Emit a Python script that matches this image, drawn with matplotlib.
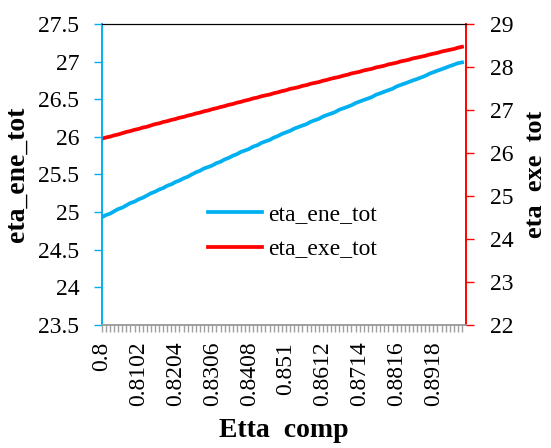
import matplotlib
matplotlib.use("Agg")
import matplotlib.pyplot as plt
from matplotlib.ticker import FormatStrFormatter

plt.rcParams['font.family'] = ['Liberation Serif', 'DejaVu Serif']

# Etta_comp values (category axis)
etta_comp = [0.8, 0.8011, 0.8023, 0.8034, 0.8045, 0.8057, 0.8068, 0.8079, 0.8091,
             0.8102, 0.8113, 0.8125, 0.8136, 0.8147, 0.8159, 0.8170, 0.8181, 0.8193,
             0.8204, 0.8215, 0.8227, 0.8238, 0.8249, 0.8261, 0.8272, 0.8283, 0.8295,
             0.8306, 0.8317, 0.8329, 0.834, 0.8351, 0.8363, 0.8374, 0.8385, 0.8397,
             0.8408, 0.8419, 0.8431, 0.8442, 0.8453, 0.8465, 0.8476, 0.8487, 0.8499,
             0.851, 0.8521, 0.8533, 0.8544, 0.8555, 0.8567, 0.8578, 0.8589, 0.8601,
             0.8612, 0.8623, 0.8635, 0.8646, 0.8657, 0.8669, 0.868, 0.8691, 0.8703,
             0.8714, 0.8725, 0.8737, 0.8748, 0.8759, 0.8771, 0.8782, 0.8793, 0.8805,
             0.8816, 0.8827, 0.8839, 0.885, 0.8861, 0.8873, 0.8884, 0.8895, 0.8907,
             0.8918, 0.8929, 0.8941, 0.8952, 0.8963, 0.8975, 0.8986, 0.8997]

eta_ene_tot = [24.93, 24.96, 24.98, 25.01, 25.04, 25.06, 25.09, 25.12, 25.14,
               25.17, 25.19, 25.22, 25.25, 25.27, 25.30, 25.32, 25.35, 25.37,
               25.40, 25.42, 25.45, 25.47, 25.50, 25.53, 25.55, 25.58, 25.60,
               25.62, 25.65, 25.67, 25.70, 25.72, 25.75, 25.77, 25.80, 25.82,
               25.84, 25.87, 25.89, 25.92, 25.94, 25.96, 25.99, 26.01, 26.04,
               26.06, 26.08, 26.11, 26.13, 26.15, 26.17, 26.20, 26.22, 26.24,
               26.27, 26.29, 26.31, 26.33, 26.36, 26.38, 26.40, 26.42, 26.45,
               26.47, 26.49, 26.51, 26.53, 26.56, 26.58, 26.60, 26.62, 26.64,
               26.67, 26.69, 26.71, 26.73, 26.75, 26.77, 26.79, 26.81, 26.84,
               26.86, 26.88, 26.90, 26.92, 26.94, 26.96, 26.98, 26.99]

eta_exe_tot = [26.33, 26.36, 26.38, 26.41, 26.43, 26.46, 26.49, 26.51, 26.54,
               26.56, 26.59, 26.61, 26.64, 26.67, 26.69, 26.72, 26.74, 26.77,
               26.79, 26.82, 26.84, 26.87, 26.89, 26.92, 26.94, 26.97, 26.99,
               27.02, 27.04, 27.07, 27.09, 27.12, 27.14, 27.17, 27.19, 27.22,
               27.24, 27.27, 27.29, 27.32, 27.34, 27.36, 27.39, 27.41, 27.44,
               27.46, 27.49, 27.51, 27.53, 27.56, 27.58, 27.61, 27.63, 27.65,
               27.68, 27.70, 27.73, 27.75, 27.77, 27.80, 27.82, 27.85, 27.87,
               27.89, 27.92, 27.94, 27.96, 27.99, 28.01, 28.03, 28.06, 28.08,
               28.10, 28.13, 28.15, 28.17, 28.20, 28.22, 28.24, 28.26, 28.29,
               28.31, 28.33, 28.36, 28.38, 28.40, 28.42, 28.45, 28.47]

label_every = 9
blue = '#00B0F0'
red = '#FF0000'
fs = 17

fig = plt.figure(figsize=(5.51, 4.48), dpi=100)
ax = fig.add_axes([0.1846, 0.2746, 0.8457 - 0.1846, 0.9464 - 0.2746])
ax2 = ax.twinx()

l1, = ax.plot(etta_comp, eta_ene_tot, color=blue, lw=2.7, label='eta_ene_tot')
l2, = ax2.plot(etta_comp, eta_exe_tot, color=red, lw=2.7, label='eta_exe_tot')

ax.set_xlim(etta_comp[0], etta_comp[-1] + 0.0011)
ax.set_ylim(23.5, 27.5)
ax2.set_ylim(22, 29)
ax.set_yticks([23.5 + 0.5 * i for i in range(9)])
ax2.set_yticks(list(range(22, 30)))
ax.yaxis.set_major_formatter(FormatStrFormatter('%g'))

ax.set_xticks(etta_comp)
ax.set_xticklabels([f'{v:g}' if i % label_every == 0 else '' for i, v in enumerate(etta_comp)],
                   rotation=90, fontsize=fs)
ax.tick_params(axis='x', direction='out', length=5, width=1, color='#A0A0A0', pad=7)
ax.tick_params(axis='y', direction='out', length=6, width=1, color=blue, labelsize=fs, pad=10)
ax2.tick_params(axis='y', direction='out', length=6, width=1, color=red, labelsize=fs, pad=11)

for a in (ax, ax2):
    a.spines['left'].set_color(blue)
    a.spines['right'].set_color(red)
    a.spines['bottom'].set_color('#A0A0A0')
    a.spines['top'].set_color('black')
    a.spines['left'].set_linewidth(1.2)
    a.spines['right'].set_linewidth(1.2)
    a.spines['top'].set_linewidth(0.8)
    a.spines['bottom'].set_linewidth(1.2)

ax.set_ylabel('eta_ene_tot', fontsize=20, fontweight='bold', labelpad=6)
ax2.set_ylabel('eta  exe  tot', fontsize=19, fontweight='bold', labelpad=8)
ax.set_xlabel('Etta  comp', fontsize=20, fontweight='bold', labelpad=8)

fig.legend(handles=[l1, l2], loc='upper left', bbox_to_anchor=(0.339, 0.592),
           frameon=False, fontsize=fs, handlelength=2.3, handletextpad=0.25,
           labelspacing=0.55)

fig.savefig('out.png', dpi=100)
